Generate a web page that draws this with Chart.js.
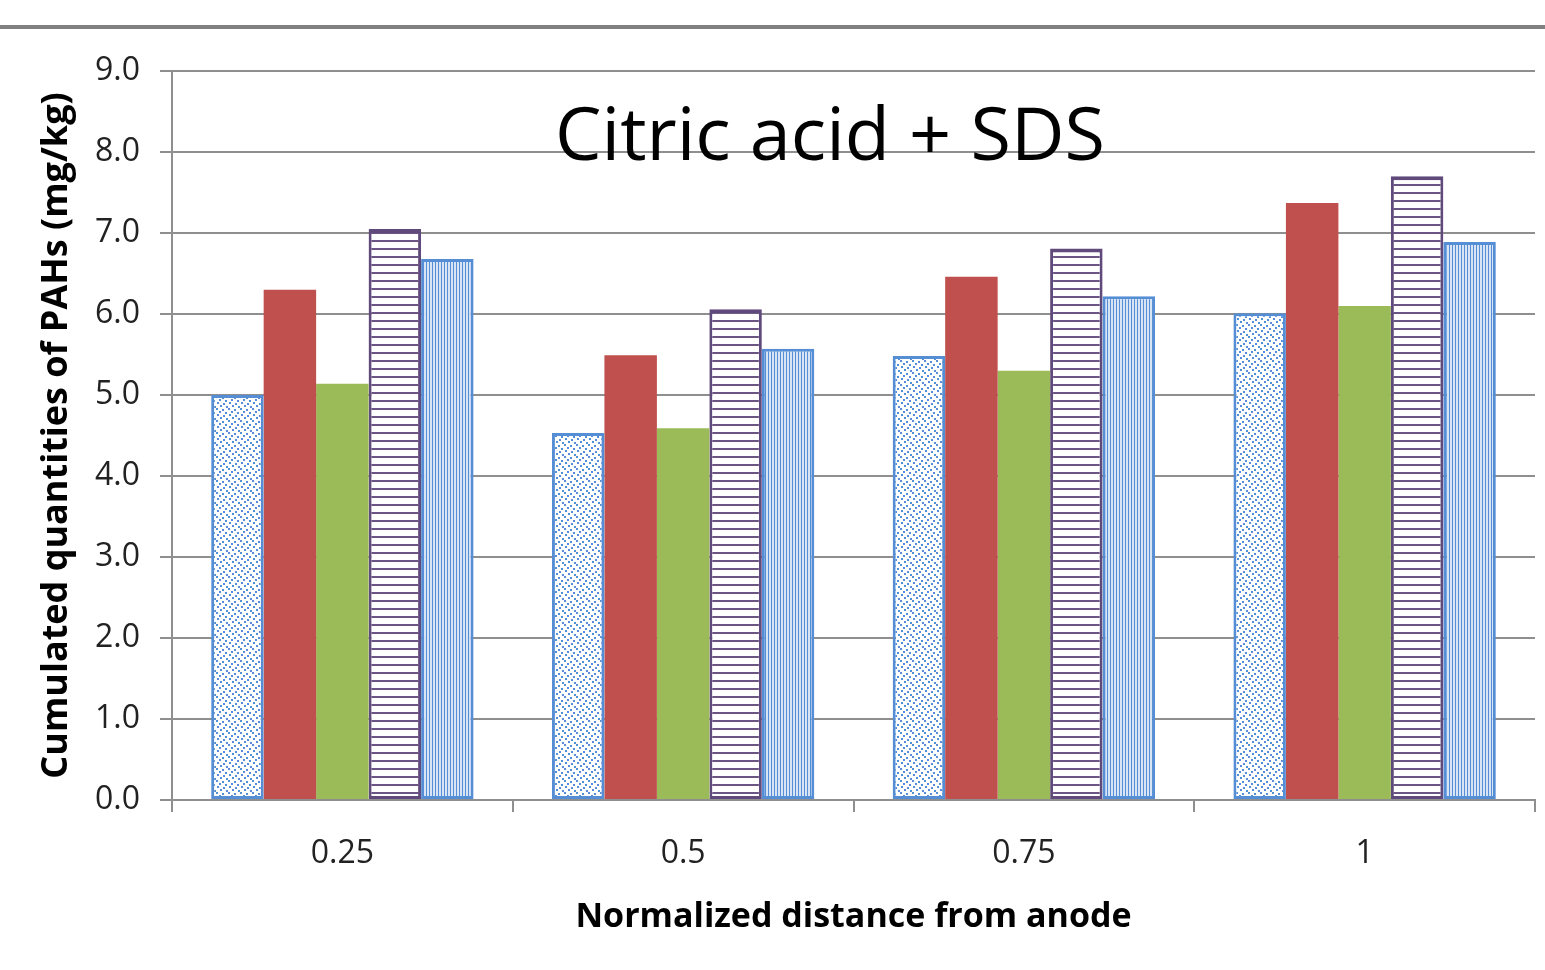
<!DOCTYPE html>
<html>
<head>
<meta charset="utf-8">
<title>Citric acid + SDS</title>
<script src="https://cdn.jsdelivr.net/npm/chart.js@4.4.1/dist/chart.umd.min.js"></script>
<style>
  html, body { margin: 0; padding: 0; background: #fff; }
  #wrap { width: 1545px; height: 970px; position: relative; }
</style>
</head>
<body>
<div id="wrap"><canvas id="chartPAH"></canvas></div>
<script>
/* ================================================
   Cumulated PAHs vs distance from anode
   ================================================ */

/* Données */
const distances   = ['0.25', '0.5', '0.75', '1'];
const dotted      = [5.00, 4.53, 5.48, 6.01];
const redSeries   = [6.30, 5.49, 6.46, 7.37];
const greenSeries = [5.14, 4.59, 5.30, 6.10];
const hStripes    = [7.05, 6.06, 6.81, 7.70];
const vStripes    = [6.68, 5.57, 6.22, 6.89];
const yTicks      = [0, 1, 2, 3, 4, 5, 6, 7, 8, 9];

const chartTitle = 'Citric acid + SDS';
const yTitle     = 'Cumulated quantities of PAHs (mg/kg)';
const xTitle     = 'Normalized distance from anode';

const BLUE   = '#558ED5';
const RED    = '#C0504D';
const GREEN  = '#9BBB59';
const PURPLE = '#604A7B';
const GRID   = '#8f8f8f';
const TEXT   = '#222222';

/* ════════════════════════════════════════════
   MOTIFS (hachures)
════════════════════════════════════════════ */
function makePattern(w, h, draw) {
  const c = document.createElement('canvas');
  c.width = w; c.height = h;
  const g = c.getContext('2d');
  g.fillStyle = '#ffffff';
  g.fillRect(0, 0, w, h);
  draw(g);
  return c.getContext('2d').createPattern(c, 'repeat');
}

const dotPattern = makePattern(12, 12, function (g) {
  g.fillStyle = BLUE;
  [[0, 0], [6, 1], [3, 3], [9, 4], [1, 6], [7, 7], [4, 9], [10, 10]].forEach(function (p) {
    g.fillRect(p[0], p[1], 2, 2);
  });
});

const hPattern = makePattern(8, 8, function (g) {
  g.fillStyle = '#6a5585';
  g.fillRect(0, 0, 8, 2);
});

const vPattern = makePattern(3, 8, function (g) {
  g.fillStyle = '#d6e4f6';
  g.fillRect(0, 0, 3, 8);
  g.fillStyle = BLUE;
  g.fillRect(0, 0, 1, 8);
});

/* ════════════════════════════════════════════
   PLUGIN — fond, filet du haut, titre
════════════════════════════════════════════ */
const decorPlugin = {
  id: 'decor',
  beforeDraw: function (chart) {
    const ctx = chart.ctx;
    ctx.save();
    ctx.fillStyle = '#ffffff';
    ctx.fillRect(0, 0, chart.width, chart.height);
    ctx.fillStyle = '#808080';
    ctx.fillRect(0, 25, chart.width, 4);
    ctx.restore();
  },
  afterDatasetsDraw: function (chart) {
    const ctx = chart.ctx;
    ctx.save();
    ctx.font = '80px "Open Sans"';
    const size = 80 * 550 / ctx.measureText(chartTitle).width;
    ctx.font = size.toFixed(1) + 'px "Open Sans"';
    ctx.fillStyle = '#000000';
    ctx.textAlign = 'center';
    ctx.textBaseline = 'alphabetic';
    ctx.fillText(chartTitle, 830, 160);
    ctx.restore();
  }
};

/* ════════════════════════════════════════════
   GRAPHIQUE BARRES
════════════════════════════════════════════ */
const ctxBar = document.getElementById('chartPAH');

new Chart(ctxBar, {
  type: 'bar',
  data: {
    labels: distances,
    datasets: [
      { label: 'Series 1', data: dotted,      backgroundColor: dotPattern, borderColor: BLUE,   borderWidth: 3 },
      { label: 'Series 2', data: redSeries,   backgroundColor: RED,        borderWidth: 0 },
      { label: 'Series 3', data: greenSeries, backgroundColor: GREEN,      borderWidth: 0 },
      { label: 'Series 4', data: hStripes,    backgroundColor: hPattern,   borderColor: PURPLE,
        borderWidth: { top: 4, left: 3, right: 3, bottom: 3 } },
      { label: 'Series 5', data: vStripes,    backgroundColor: vPattern,   borderColor: BLUE,   borderWidth: 3 }
    ]
  },
  options: {
    responsive: true,
    maintainAspectRatio: false,
    animation: false,
    layout: { padding: { top: 71, right: 10, left: 0, bottom: 0 } },
    datasets: {
      bar: { categoryPercentage: 0.77, barPercentage: 1, borderSkipped: false }
    },
    plugins: {
      legend: { display: false },
      tooltip: { enabled: false }
    },
    scales: {
      x: {
        grid: { drawOnChartArea: false, drawTicks: true, tickLength: 12, color: GRID, lineWidth: 2 },
        border: { display: true, color: GRID, width: 2 },
        ticks: { color: TEXT, padding: 23, font: { family: 'Open Sans', size: 32 } },
        title: {
          display: true,
          text: xTitle,
          color: '#000',
          padding: { top: 0, bottom: 32 },
          font: { family: 'Open Sans', size: 34, weight: 'bold' }
        },
        afterFit: function (scale) { scale.height = 170; }
      },
      y: {
        min: 0,
        max: 9,
        afterBuildTicks: function (scale) {
          scale.ticks = yTicks.map(function (v) { return { value: v }; });
        },
        grid: { color: GRID, lineWidth: 2, tickLength: 12 },
        border: { display: true, color: GRID, width: 2 },
        ticks: {
          color: TEXT,
          padding: 20,
          font: { family: 'Open Sans', size: 32 },
          callback: function (v) { return Number(v).toFixed(1); }
        },
        title: {
          display: true,
          text: yTitle,
          color: '#000',
          padding: { top: 35, bottom: 0 },
          font: { family: 'Open Sans', size: 36, weight: 'bold' }
        },
        afterFit: function (scale) { scale.width = 172; }
      }
    }
  },
  plugins: [decorPlugin]
});
</script>
</body>
</html>
